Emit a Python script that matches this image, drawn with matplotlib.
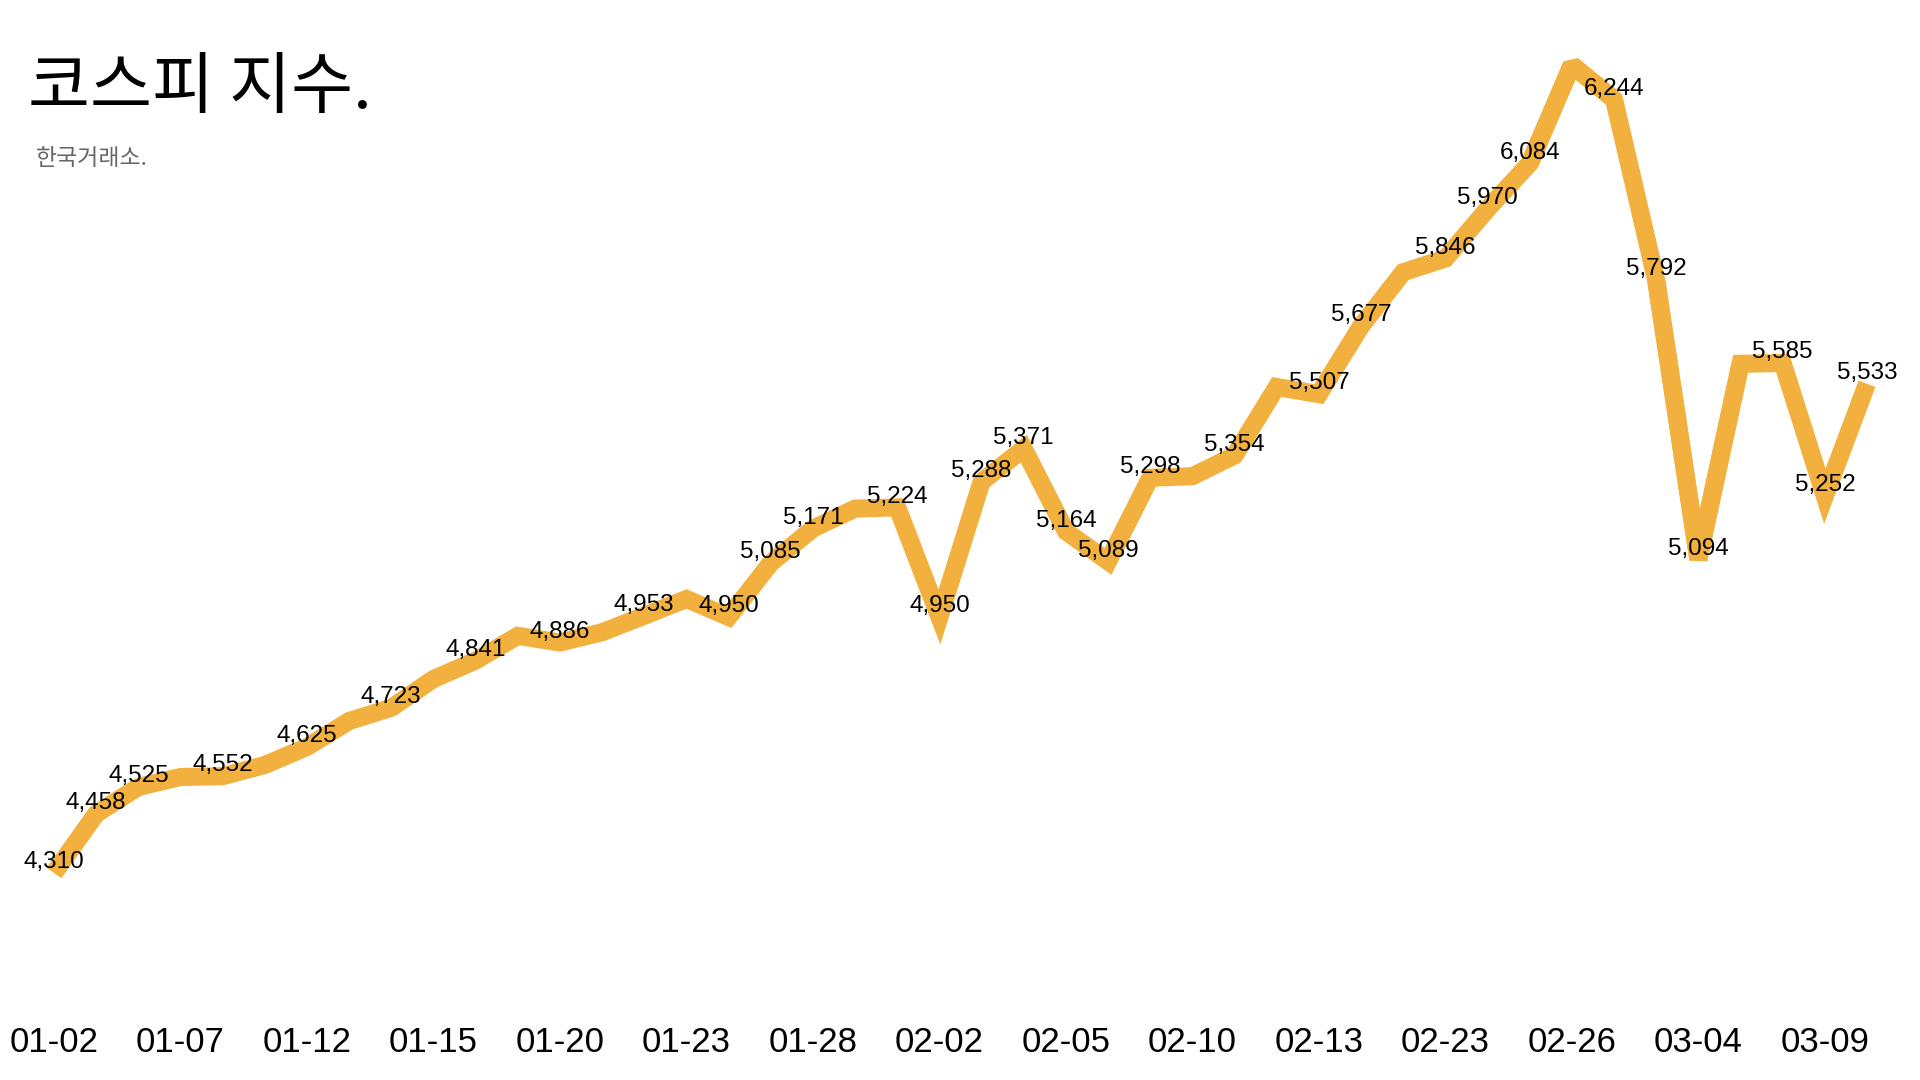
import matplotlib
matplotlib.use("Agg")
import matplotlib.pyplot as plt

# KOSPI closing values
dates = [
    "01-02", "01-05", "01-06", "01-07", "01-08", "01-09", "01-12", "01-13",
    "01-14", "01-15", "01-16", "01-19", "01-20", "01-21", "01-22", "01-23",
    "01-26", "01-27", "01-28", "01-29", "01-30", "02-02", "02-03", "02-04",
    "02-05", "02-06", "02-09", "02-10", "02-11", "02-12", "02-13", "02-19",
    "02-20", "02-23", "02-24", "02-25", "02-26", "02-27", "03-03", "03-04",
    "03-05", "03-06", "03-09", "03-10",
]
values = [
    4310, 4458, 4525, 4550, 4552, 4580, 4625, 4690,
    4723, 4795, 4841, 4903, 4886, 4912, 4953, 4995,
    4950, 5085, 5171, 5221, 5224, 4950, 5288, 5371,
    5164, 5089, 5298, 5302, 5354, 5525, 5507, 5677,
    5812, 5846, 5970, 6084, 6330, 6244, 5792, 5094,
    5583, 5585, 5252, 5533,
]
# points that carry a value label
labeled = [0, 1, 2, 4, 6, 8, 10, 12, 14, 16, 17, 18, 20, 21, 22, 23, 24,
           25, 26, 28, 30, 31, 33, 34, 35, 37, 38, 39, 41, 42, 43]
# vertices where the join is too sharp for a miter (bevelled in the original)
bevel_at = [36, 39]
tick_every = 3

title = "코스피 지수."
subtitle = "한국거래소."

line_color = "#F2B13E"
kr_font = ["Noto Sans CJK KR", "DejaVu Sans"]
num_font = ["Liberation Sans", "DejaVu Sans"]
lw = 13

fig = plt.figure(figsize=(19.2, 10.8), dpi=100)
ax = fig.add_axes([0, 80 / 1080, 1, 960 / 1080])

x = list(range(len(values)))

# break the line at the bevel vertices, miter everywhere else
cuts = [0] + bevel_at + [len(values) - 1]
for a, b in zip(cuts[:-1], cuts[1:]):
    ax.plot(x[a:b + 1], values[a:b + 1], color=line_color, linewidth=lw,
            solid_joinstyle="miter", solid_capstyle="butt")
for i in bevel_at:
    ax.plot(x[i - 1:i + 2], values[i - 1:i + 2], color=line_color, linewidth=lw,
            solid_joinstyle="bevel", solid_capstyle="butt")

for i in labeled:
    ax.annotate(f"{values[i]:,}", (x[i], values[i]), xytext=(0, 3.5),
                textcoords="offset points", ha="center", va="baseline",
                fontsize=17.5, family=num_font, color="black")

ax.set_xlim(-1.281, 44.257)
ax.set_ylim(3992.5, 6392.5)

ticks = x[::tick_every]
ax.set_xticks(ticks)
ax.set_xticklabels([dates[i] for i in ticks], family=num_font, fontsize=25)
ax.tick_params(axis="x", length=0, pad=19)
ax.set_yticks([])
for s in ax.spines.values():
    s.set_visible(False)

fig.text(28 / 1920, 1 - 54 / 1080, title, family=kr_font, fontsize=48.5,
         ha="left", va="top", color="black")
fig.text(36 / 1920, 1 - 147 / 1080, subtitle, family=kr_font, fontsize=16.5,
         ha="left", va="top", color="#666666")

fig.savefig("out.png", dpi=100)
